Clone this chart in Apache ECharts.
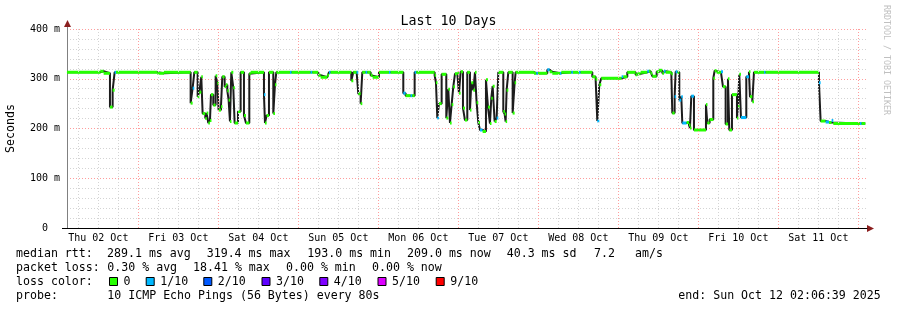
<!DOCTYPE html>
<html><head><meta charset="utf-8">
<script src="https://cdn.jsdelivr.net/npm/echarts@6/dist/echarts.min.js"></script>
<style>html,body{margin:0;padding:0;background:#fff}#c{width:897px;height:310px}</style>
</head><body><div id="c"></div>
<script>
// time: hours since 2025-10-02 00:00 ; value holds until next time
const hours = [2.6,12.6,13.6,15.5,16.3,16.9,17.3,29.7,31.7,39.7,40.3,40.8,41.8,42.3,42.9,43.3,44.1,44.5,45.0,45.5,45.8,46.5,47.2,47.7,48.1,48.8,49.2,49.9,50.3,50.7,51.1,51.5,51.9,52.5,52.9,53.9,54.7,55.7,56.3,57.3,57.7,
61.7,62.0,62.5,63.2,64.5,65.0,65.4,69.5,70.0,75.7,76.2,78.0,78.7,80.7,81.2,81.7,87.9,88.5,89.5,90.0,90.7,91.2,92.2,92.7,93.7,94.3,96.2,99.2,99.7,103.5,104.2,105.7,106.2,106.9,107.4,112.9,113.3,113.7,114.2,115.0,116.4,117.0,117.5,118.0,118.5,119.0,119.7,120.2,120.7,121.4,122.0,
122.7,123.5,123.9,124.5,125.0,125.5,126.0,126.5,127.3,128.3,128.9,129.5,129.9,130.3,130.9,131.5,132.0,133.5,133.9,134.2,134.5,135.0,136.3,136.9,137.2,142.7,143.4,143.9,146.7,147.4,148.2,150.5,150.9,153.9,154.4,156.2,156.7,160.2,161.2,161.7,162.3,162.9,169.0,169.5,170.7,173.2,173.7,174.7,176.7,177.2,177.7,178.2,179.5,180.2,181.2,
181.7,182.2,183.9,184.2,184.9,185.2,185.8,186.3,186.9,187.2,188.5,189.2,189.5,189.9,190.7,194.3,194.7,195.4,196.5,196.9,197.5,198.8,199.4,200.2,200.9,201.3,202.1,203.6,203.9,204.3,204.8,206.4,207.2,207.5,208.2,208.7,211.7,212.2,228.2,228.7,230.2,231.2,232.0,232.5,240.5,241.0];
const rtt = [313,315,311,243,277,313,313,311,313,251,281,313,264,273,304,230,220,231,211,216,268,247,306,291,237,244,304,284,288,276,257,214,313,282,211,234,313,226,211,310,313,
268,211,226,313,230,288,313,313,313,313,313,307,303,307,313,313,296,313,313,270,250,313,313,313,307,303,313,313,313,271,266,266,266,313,313,307,292,221,250,309,221,279,211,248,284,310,311,271,314,241,217,
313,237,292,277,313,252,212,197,194,298,243,210,261,285,214,221,313,234,229,214,277,313,231,292,313,311,311,311,318,314,311,311,313,313,313,313,313,304,299,215,288,301,304,304,313,308,310,313,315,315,311,305,314,317,311,
315,313,310,231,264,314,313,257,264,211,212,207,201,265,197,248,211,218,301,316,313,314,284,209,300,197,268,221,244,309,222,304,314,264,254,313,313,313,292,215,213,212,216,210,210,210];
const loss = [0,0,0,0,0,1,0,0,0,0,1,0,0,0,0,0,0,0,0,0,0,0,0,0,0,0,0,0,0,0,0,0,0,0,0,0,0,0,0,0,0,
1,0,0,0,0,0,0,1,0,1,0,0,0,0,1,0,0,0,1,0,0,0,1,0,0,0,0,1,0,1,0,1,0,1,0,0,0,1,0,0,0,0,0,0,0,0,0,0,0,0,0,
0,0,0,0,0,0,0,1,0,0,0,0,0,0,0,1,0,0,0,0,0,0,0,0,0,0,1,0,1,0,0,1,0,1,0,1,0,0,0,1,0,0,1,0,0,0,0,0,1,0,0,0,0,0,0,
1,0,0,0,1,1,0,1,1,1,0,0,0,1,0,0,0,0,0,0,0,1,0,0,0,0,0,0,0,0,1,1,0,0,0,0,1,0,1,0,1,0,1,0,1,0];
const endHour = 242.1;
const startAxis = 2.61, endAxis = 242.61;
const dayLabels = ['Thu 02 Oct','Fri 03 Oct','Sat 04 Oct','Sun 05 Oct','Mon 06 Oct','Tue 07 Oct','Wed 08 Oct','Thu 09 Oct','Fri 10 Oct','Sat 11 Oct'];
const yTicks = [0,100,200,300,400];
const yTickLabels = ['0','100 m','200 m','300 m','400 m'];
const lossLevels = ['0','1/10','2/10','3/10','4/10','5/10','9/10'];
const lossColors = ['#26ff00','#00b8ff','#0059ff','#5e00ff','#7e00ff','#dd00ff','#ff0000'];
const rttStats = ['289.1 ms avg','319.4 ms max','193.0 ms min','209.0 ms now','40.3 ms sd','7.2','am/s'];
const lossStats = ['0.30 % avg','18.41 % max','0.00 % min','0.00 % now'];
const probeText = '10 ICMP Echo Pings (56 Bytes) every 80s';
const endText = 'end: Sun Oct 12 02:06:39 2025';
const titleText = 'Last 10 Days';

const FONT = '"DejaVu Sans Mono", monospace';
const stepData = hours.map((h,i)=>[h, rtt[i]]).concat([[endHour, rtt[rtt.length-1]]]);
const segData = hours.map((h,i)=>[h, i+1<hours.length?hours[i+1]:endHour, rtt[i], loss[i]]);

const vLines = [];
for (let h = 6; h < endAxis; h += 6) {
  const major = h % 24 === 0;
  vLines.push({xAxis: h, lineStyle: {color: major ? '#ff9c9c' : '#d4d4d4', type: [1,2], width: 1}});
}

const g = [];
function txt(x,y,t,opt){ g.push(Object.assign({type:'text', x:x, y:y, silent:true, style:{text:t, font:'11.6px '+FONT, fill:'#000', align:'left', verticalAlign:'middle'}}, opt||{})); }
const L1=254, L2=268.3, L3=281.7, L4=296.3;
txt(16,L1,'median rtt:');
[107,206.7,307.3,407,506.7,594,635].forEach((x,i)=>txt(x,L1,rttStats[i]));
txt(16,L2,'packet loss:');
[107.3,193,286,372].forEach((x,i)=>txt(x,L2,lossStats[i]));
txt(16,L3,'loss color:');
[109,145.7,203.3,261.5,319.3,377.5,435.7].forEach((x,i)=>{
  g.push({type:'rect', silent:true, shape:{x:x+0.5, y:277.5, width:8, height:8}, style:{fill:lossColors[i], stroke:'#000', lineWidth:1}});
  txt(x+14.5,L3,lossLevels[i]);
});
txt(16,L4,'probe:');
txt(107.3,L4,probeText);
txt(678.3,L4,endText);
// watermark
g.push({type:'text', x:886, y:60, rotation:-Math.PI/2, silent:true, style:{text:'RRDTOOL / TOBI OETIKER', font:'8.3px '+FONT, fill:'#c0c0c0', align:'center', verticalAlign:'middle'}});
// axis arrows / extensions
g.push({type:'line', silent:true, shape:{x1:67.5,y1:29,x2:67.5,y2:25}, style:{stroke:'#808080', lineWidth:1}});
g.push({type:'polygon', silent:true, shape:{points:[[64,27],[71,27],[67.5,20]]}, style:{fill:'#8b1f1f'}});
g.push({type:'line', silent:true, shape:{x1:62,y1:228.5,x2:67,y2:228.5}, style:{stroke:'#000', lineWidth:1}});
g.push({type:'polygon', silent:true, shape:{points:[[867,225],[867,232],[874,228.5]]}, style:{fill:'#8b1f1f'}});

const chart = echarts.init(document.getElementById('c'), null, {renderer:'canvas'});
chart.setOption({
  animation:false,
  backgroundColor:'#fff',
  title:{text:titleText, left:'center', top:10, textStyle:{fontFamily:FONT, fontSize:13.3, fontWeight:'normal', color:'#000'}},
  grid:{left:67, right:30, top:29, bottom:82, containLabel:false, outerBoundsMode:'none'},
  xAxis:{type:'value', min:startAxis, max:endAxis,
    axisLine:{show:true, lineStyle:{color:'#000', width:1}},
    axisTick:{show:false}, splitLine:{show:false},
    axisLabel:{show:true, customValues: dayLabels.map((d,i)=>12+24*i), margin:5,
      formatter:(v)=>dayLabels[Math.round((v-12)/24)], fontFamily:FONT, fontSize:10, color:'#000'}},
  yAxis:{type:'value', min:0, max:400, interval:100,
    name:'Seconds', nameLocation:'middle', nameRotate:90, nameGap:50,
    nameTextStyle:{fontFamily:FONT, fontSize:11.6, color:'#000'},
    axisLine:{show:true, lineStyle:{color:'#808080', width:1}},
    axisTick:{show:false},
    axisLabel:{margin:7, fontFamily:FONT, fontSize:10, color:'#000',
      formatter:(v)=>{const i=yTicks.indexOf(v); const s=i>=0?yTickLabels[i]:''; return v===0?'{z|'+s+'}':s;},
      rich:{z:{fontFamily:FONT, fontSize:10, color:'#000', padding:[0,12,0,0]}}},
    splitLine:{show:true, lineStyle:{color:'#ff9c9c', type:[1,2], width:1}},
    minorTick:{show:false, splitNumber:5},
    minorSplitLine:{show:true, lineStyle:{color:'#d4d4d4', type:[1,2], width:1}}},
  graphic:g,
  series:[
    {type:'line', z:1, data:[[startAxis,-50]], symbol:'none', lineStyle:{opacity:0}, silent:true,
     markLine:{silent:true, symbol:['none','none'], label:{show:false}, animation:false, data:vLines}},
    {type:'line', z:2, step:'end', data:stepData, symbol:'none', showSymbol:false, silent:true,
     lineStyle:{color:'#1c1c1c', width:2}},
    {type:'custom', z:3, silent:true, data:segData, encode:{x:[0,1], y:2},
     renderItem:function(params, api){
       const s = api.coord([api.value(0), api.value(2)]);
       const e = api.coord([api.value(1), api.value(2)]);
       return {type:'rect', shape:{x:s[0], y:s[1]-1.5, width:Math.max(e[0]-s[0],1.5), height:3},
               style:{fill:lossColors[api.value(3)]}};
     }}
  ]
});
</script></body></html>
